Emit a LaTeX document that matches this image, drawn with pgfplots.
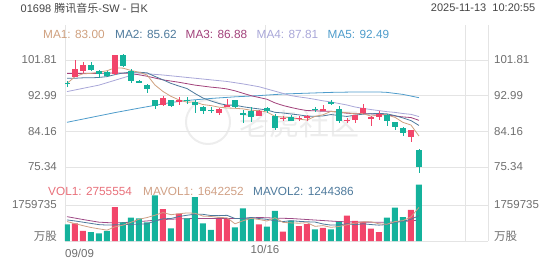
\documentclass[border=0pt]{standalone}
\usepackage{fontspec}
\setmainfont{Liberation Sans}
\newfontfamily\cjk{Noto Sans CJK SC}
\usepackage{pgfplots}
\usepackage{pgfplotstable}
\pgfplotsset{compat=1.18}
\definecolor{upc}{HTML}{F2456A}
\definecolor{dnc}{HTML}{14B29C}
\definecolor{gridc}{HTML}{E4E4E4}
\definecolor{labc}{HTML}{6E6E6E}
\definecolor{titc}{HTML}{444444}
\definecolor{ma1}{HTML}{CFA07E}
\definecolor{ma2}{HTML}{4E7A9C}
\definecolor{ma3}{HTML}{A2427B}
\definecolor{ma4}{HTML}{A9A7D8}
\definecolor{ma5}{HTML}{4E9CCB}
\definecolor{vol1}{HTML}{E8707A}
\definecolor{mv1}{HTML}{D0A085}
\definecolor{mv3}{HTML}{9E4A86}

% up (red) candles: index, open, high, low, close, volume
\pgfplotstableread{
i O H L C V
1 97.7 101.8 97.5 99.5 860000
2 99.2 101.2 98.7 100.6 490000
6 98.4 103.1 98.2 103.0 1660000
12 90.8 92.8 90.5 92.3 1560000
14 91.7 92.6 90.8 91.8 1340000
19 88.8 90.0 88.2 89.8 1070000
20 90.3 92.1 90.1 90.8 1070000
24 88.0 89.4 87.9 89.3 810000
27 87.3 88.0 86.8 87.5 460000
29 87.3 88.0 86.8 87.5 730000
30 87.7 88.2 86.8 87.9 830000
32 89.4 90.7 89.4 89.5 640000
35 86.8 87.4 86.2 86.9 1240000
36 87.0 88.3 86.2 88.2 980000
37 88.6 90.9 88.4 89.9 940000
38 87.2 88.0 85.5 87.8 600000
39 87.8 89.1 87.0 88.5 440000
43 82.7 84.6 81.6 84.5 1520000
}\upT

% down (green) candles
\pgfplotstableread{
i O H L C V
0 96.1 96.7 95.1 96.0 810000
3 100.6 101.2 99.2 99.4 440000
4 99.2 99.4 97.4 98.4 370000
5 98.9 99.2 97.5 97.9 500000
7 103.0 103.4 100.0 100.3 910000
8 99.2 99.6 96.0 96.5 1140000
9 96.7 96.9 96.0 96.2 1110000
10 95.6 95.9 93.6 94.6 910000
11 91.8 92.0 89.6 90.5 2230000
13 91.8 92.0 90.3 90.5 620000
15 91.9 92.6 91.0 91.8 1110000
16 91.5 92.0 88.8 90.7 2150000
17 90.3 90.5 88.5 89.1 860000
18 89.4 90.3 88.8 89.3 540000
21 91.8 92.0 89.9 90.3 670000
22 88.5 89.4 86.3 88.4 1600000
23 89.3 90.1 86.5 87.6 1110000
25 89.9 90.3 88.8 89.1 700000
26 88.0 88.4 84.5 85.0 1470000
28 87.6 88.2 86.6 86.8 990000
31 89.7 90.3 89.0 89.6 570000
33 91.3 91.8 90.7 91.0 570000
34 89.6 90.4 86.2 86.8 940000
40 88.2 88.4 85.5 86.7 1140000
41 86.4 86.5 84.4 85.2 1630000
42 85.1 85.2 83.0 83.7 1170000
44 79.6 79.7 73.8 75.3 2755554
}\dnT

\pgfplotsset{
  base/.style={scale only axis, width=423pt, xmin=-0.25, xmax=52.625,
    axis line style={draw=none}, major tick length=0pt, tick style={draw=none},
    scaled y ticks=false, scaled x ticks=false,
    ticklabel style={font=\fontsize{11.5}{13}\selectfont, text=labc},
    grid style={draw=gridc, line width=0.6pt}},
  wick/.style={draw=none, mark=none, error bars/.cd, y dir=both, y explicit, error mark=none,
    error bar style={line width=0.8pt, draw=#1, solid}},
  body/.style={draw=none, mark=none, error bars/.cd, y dir=both, y explicit, error mark=none,
    error bar style={line width=6pt, draw=#1, solid}},
}

\begin{document}
\begin{tikzpicture}
\path[use as bounding box] (0pt,0pt) rectangle (552pt,-265pt);

% watermark
\draw[black!7, line width=2pt] (208pt,-122pt) circle (22pt);
\node[anchor=west, text=black!7, font=\fontsize{30}{30}\selectfont\cjk] at (236pt,-124pt) {老虎社区};

% main price panel
\begin{axis}[base, at={(65pt,-25pt)}, anchor=north west, height=153pt,
  ymin=72.62, ymax=110.47,
  ytick={75.34,84.16,92.99,101.81}, yticklabels={75.34,84.16,92.99,101.81},
  yticklabel style={anchor=east, inner sep=0pt, xshift=-8pt},
  xtick={-0.25,24.75,49.75,52.625}, xticklabels={,,,},
  grid=major]
\addplot[ma5, line width=0.8pt] coordinates {(0,86.4)(3,87.6)(6,88.8)(9,89.9)(11,90.6)(13,91.3)(15,91.8)(18,92.3)(21,92.7)(24,93.0)(27,93.4)(30,93.6)(33,93.8)(36,93.9)(39,93.9)(40,93.8)(42,93.3)(44,92.49)};
\addplot[ma4, line width=0.8pt] coordinates {(0,94.0)(2,94.8)(4,95.6)(6,96.8)(8,98.0)(9,98.4)(10,98.4)(12,98.1)(14,97.7)(16,97.3)(18,96.9)(20,96.5)(22,95.9)(24,95.2)(26,94.1)(28,93.0)(29,92.68)(30,92.41)(31,92.08)(32,91.71)(33,91.43)(34,91.05)(35,90.68)(36,90.19)(37,89.84)(38,89.55)(39,89.29)(40,89.03)(41,88.85)(42,88.57)(43,88.37)(44,87.81)};
\addplot[ma3, line width=0.8pt] coordinates {(0,98.5)(2,98.5)(4,98.5)(6,98.6)(8,98.5)(10,97.8)(12,96.9)(14,96.3)(16,95.6)(18,95.1)(19,94.91)(20,94.65)(21,94.19)(22,93.58)(23,92.99)(24,92.54)(25,92.10)(26,91.20)(27,90.56)(28,90.07)(29,89.64)(30,89.30)(31,89.26)(32,89.12)(33,89.14)(34,88.89)(35,88.65)(36,88.52)(37,88.56)(38,88.49)(39,88.42)(40,88.22)(41,87.96)(42,87.73)(43,87.57)(44,86.88)};
\addplot[ma2, line width=0.8pt] coordinates {(0,97.3)(1,97.3)(2,97.4)(3,97.4)(4,97.5)(5,97.7)(6,98.2)(7,98.6)(8,98.8)(9,98.78)(10,98.64)(11,97.74)(12,96.91)(13,96.02)(14,95.36)(15,94.75)(16,93.52)(17,92.40)(18,91.68)(19,91.04)(20,90.66)(21,90.64)(22,90.25)(23,89.96)(24,89.71)(25,89.44)(26,88.87)(27,88.71)(28,88.46)(29,88.23)(30,87.94)(31,87.87)(32,87.98)(33,88.32)(34,88.07)(35,87.85)(36,88.17)(37,88.41)(38,88.51)(39,88.61)(40,88.49)(41,88.05)(42,87.47)(43,86.82)(44,85.62)};
\addplot[ma1, line width=0.8pt] coordinates {(0,96.0)(1,97.7)(2,98.4)(3,98.5)(4,98.78)(5,99.16)(6,99.86)(7,99.80)(8,99.22)(9,98.78)(10,98.12)(11,95.62)(12,94.02)(13,92.82)(14,91.94)(15,91.38)(16,91.42)(17,90.78)(18,90.54)(19,90.14)(20,89.94)(21,89.86)(22,89.72)(23,89.38)(24,89.28)(25,88.94)(26,87.88)(27,87.70)(28,87.54)(29,87.18)(30,86.94)(31,87.86)(32,88.26)(33,89.10)(34,88.96)(35,88.76)(36,88.48)(37,88.56)(38,87.92)(39,88.26)(40,88.22)(41,87.62)(42,86.38)(43,85.72)(44,83.00)};
% candles
\addplot[wick=upc] table[x=i, y expr={(\thisrow{H}+\thisrow{L})/2}, y error expr={(\thisrow{H}-\thisrow{L})/2}] {\upT};
\addplot[body=upc] table[x=i, y expr={(\thisrow{O}+\thisrow{C})/2}, y error expr={max(abs(\thisrow{C}-\thisrow{O})/2,0.13)}] {\upT};
\addplot[wick=dnc] table[x=i, y expr={(\thisrow{H}+\thisrow{L})/2}, y error expr={(\thisrow{H}-\thisrow{L})/2}] {\dnT};
\addplot[body=dnc] table[x=i, y expr={(\thisrow{O}+\thisrow{C})/2}, y error expr={max(abs(\thisrow{C}-\thisrow{O})/2,0.13)}] {\dnT};
\end{axis}
% right labels price
\begin{axis}[base, at={(65pt,-25pt)}, anchor=north west, height=153pt,
  ymin=72.62, ymax=110.47, yticklabel pos=right,
  ytick={75.34,84.16,92.99,101.81}, yticklabels={75.34,84.16,92.99,101.81},
  yticklabel style={anchor=west, inner sep=0pt, xshift=6pt},
  xtick=\empty]
\end{axis}

% volume panel
\begin{axis}[base, at={(65pt,-178pt)}, anchor=north west, height=63pt,
  ymin=0, ymax=3079536,
  ytick={0,1759735}, yticklabels={,1759735},
  extra y ticks={250000}, extra y tick labels={{\cjk 万股}},
  extra y tick style={grid=none},
  yticklabel style={anchor=east, inner sep=0pt, xshift=-8pt},
  xtick={24.75,49.75,52.625}, xticklabels={10/16,,},
  extra x ticks={-0.25}, extra x tick labels={09/09},
  extra x tick style={grid=major, xticklabel style={anchor=north west, inner sep=0pt, yshift=-4pt, xshift=0pt}},
  xticklabel style={anchor=north, inner sep=0pt, yshift=-4pt},
  grid=major]
\addplot[mv3, line width=0.8pt] coordinates {(0,1190000)(2,1050000)(4,920000)(6,880000)(8,920000)(10,980000)(12,1050000)(14,1080000)(16,1100000)(18,1100000)(20,1100000)(22,1100000)(24,1150000)(26,1120000)(28,1100000)(30,1050000)(32,1000000)(34,950000)(36,930000)(38,920000)(40,920000)(42,950000)(44,1016000)};
\addplot[ybar, bar width=6pt, bar shift=0pt, fill=upc, draw=none] table[x=i, y=V] {\upT};
\addplot[ybar, bar width=6pt, bar shift=0pt, fill=dnc, draw=none] table[x=i, y=V] {\dnT};
\addplot[ma2, line width=0.8pt] coordinates {(0,1030000)(1,980000)(2,920000)(3,860000)(4,800000)(5,780000)(6,790000)(7,800000)(8,810000)(9,829000)(10,839000)(11,976000)(12,1083000)(13,1101000)(14,1198000)(15,1259000)(16,1308000)(17,1303000)(18,1243000)(19,1239000)(20,1255000)(21,1099000)(22,1103000)(23,1152000)(24,1099000)(25,1058000)(26,990000)(27,950000)(28,995000)(29,961000)(30,937000)(31,927000)(32,831000)(33,777000)(34,790000)(35,844000)(36,795000)(37,843000)(38,804000)(39,775000)(40,806000)(41,912000)(42,965000)(43,1060000)(44,1244386)};
\addplot[mv1, line width=0.8pt] coordinates {(0,950000)(1,850000)(2,750000)(3,660000)(4,594000)(5,532000)(6,692000)(7,776000)(8,916000)(9,1064000)(10,1146000)(11,1260000)(12,1390000)(13,1286000)(14,1332000)(15,1372000)(16,1356000)(17,1216000)(18,1200000)(19,1146000)(20,1138000)(21,842000)(22,990000)(23,1104000)(24,1052000)(25,978000)(26,1138000)(27,910000)(28,886000)(29,870000)(30,896000)(31,716000)(32,752000)(33,668000)(34,710000)(35,792000)(36,874000)(37,934000)(38,940000)(39,840000)(40,820000)(41,950000)(42,996000)(43,1180000)(44,1642252)};
\end{axis}
% right labels volume
\begin{axis}[base, at={(65pt,-178pt)}, anchor=north west, height=63pt,
  ymin=0, ymax=3079536, yticklabel pos=right,
  ytick={1759735}, yticklabels={1759735},
  extra y ticks={250000}, extra y tick labels={{\cjk 万股}},
  yticklabel style={anchor=west, inner sep=0pt, xshift=6pt},
  xtick=\empty]
\end{axis}

% header texts
\node[anchor=west, inner sep=0pt, text=titc, font=\fontsize{11}{13}\selectfont] at (20.5pt,-8pt) {01698 {\cjk 腾讯音乐}-SW - {\cjk 日}K};
\node[anchor=east, inner sep=0pt, text=titc, font=\fontsize{11}{13}\selectfont] at (535.5pt,-8pt) {2025-11-13\ \ 10:20:55};
\begin{scope}[every node/.style={anchor=west, inner sep=0pt, font=\fontsize{11.8}{13}\selectfont}]
\node[text=ma1] at (43pt,-34pt) {MA1: 83.00};
\node[text=ma2] at (115pt,-34pt) {MA2: 85.62};
\node[text=ma3] at (185.5pt,-34pt) {MA3: 86.88};
\node[text=ma4] at (256.5pt,-34pt) {MA4: 87.81};
\node[text=ma5] at (327.5pt,-34pt) {MA5: 92.49};
\node[text=vol1] at (48pt,-191.5pt) {VOL1: 2755554};
\node[text=mv1] at (143pt,-191.5pt) {MAVOL1: 1642252};
\node[text=ma2] at (253pt,-191.5pt) {MAVOL2: 1244386};
\end{scope}
\end{tikzpicture}
\end{document}
